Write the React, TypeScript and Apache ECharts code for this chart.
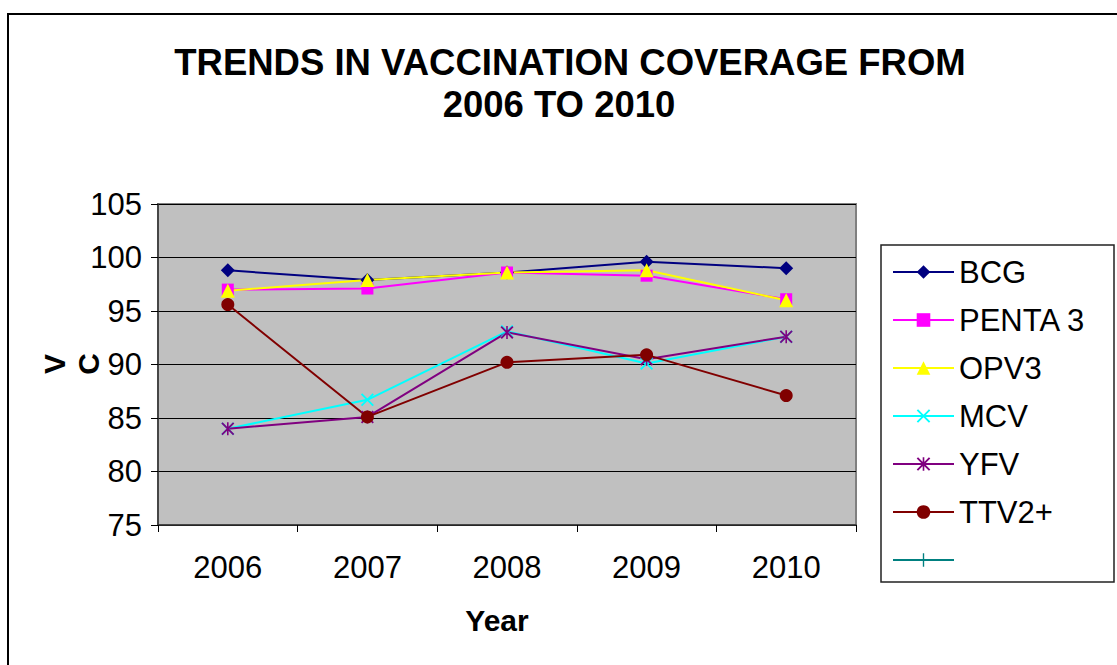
import React, { useEffect, useRef } from "react";
import * as echarts from "echarts";

const years = ["2006", "2007", "2008", "2009", "2010"];
const bcg = [98.8, 97.9, 98.6, 99.6, 99.0];
const penta3 = [97.0, 97.1, 98.6, 98.3, 96.1];
const opv3 = [96.9, 97.9, 98.6, 98.8, 96.0];
const mcv = [84.0, 86.7, 93.1, 90.1, 92.6];
const yfv = [84.0, 85.1, 93.0, 90.5, 92.6];
const ttv2 = [95.6, 85.1, 90.2, 90.9, 87.1];
const blankSeries: (number | null)[] = [];
const yTicks = { min: 75, max: 105, interval: 5 };

const FONT = '"Liberation Sans", Arial, sans-serif';

const X_PATH = "path://M0,2L2,0L20,18L18,20Z M18,0L20,2L2,20L0,18Z";
const STAR_PATH =
  "path://M0,2L2,0L20,18L18,20Z M18,0L20,2L2,20L0,18Z M8.8,0L11.2,0L11.2,20L8.8,20Z";
const PLUS_PATH = "path://M9,0L11,0L11,20L9,20Z M0,9L20,9L20,11L0,11Z";

function mk(name: string, data: (number | null)[], color: string, symbol: string, size: number) {
  return {
    name,
    type: "line",
    data,
    symbol,
    symbolSize: size,
    lineStyle: { color, width: 2 },
    itemStyle: { color, borderWidth: 0 },
    emphasis: { disabled: true },
  };
}

export default function App() {
  const ref = useRef<HTMLDivElement>(null);
  useEffect(() => {
    if (!ref.current) return;
    const chart = echarts.init(ref.current, undefined, { renderer: "svg" });
    const series = [
      mk("BCG", bcg, "#000080", "diamond", 14),
      mk("PENTA 3", penta3, "#FF00FF", "rect", 12),
      mk("OPV3", opv3, "#FFFF00", "triangle", 14),
      mk("MCV", mcv, "#00FFFF", X_PATH, 13),
      mk("YFV", yfv, "#800080", STAR_PATH, 13),
      mk("TTV2+", ttv2, "#800000", "circle", 13),
      mk(" ", blankSeries, "#008080", PLUS_PATH, 12),
    ];
    const titleStyle = {
      fontSize: 36.5,
      fontWeight: "bold",
      fontFamily: FONT,
      fill: "#000",
      align: "center",
      verticalAlign: "middle",
    };
    const axisNameStyle = {
      fontSize: 30,
      fontWeight: "bold",
      fontFamily: FONT,
      fill: "#000",
      align: "center",
      verticalAlign: "middle",
    };
    chart.setOption({
      animation: false,
      backgroundColor: "#ffffff",
      textStyle: { fontFamily: FONT },
      grid: {
        left: 158,
        right: 261,
        top: 204,
        height: 321,
        show: true,
        backgroundColor: "#C0C0C0",
        borderColor: "#808080",
        borderWidth: 2,
      },
      xAxis: {
        type: "category",
        data: years,
        boundaryGap: true,
        axisLine: { show: true, lineStyle: { color: "#333", width: 1.5 } },
        axisTick: { show: true, length: 7, interval: 0, lineStyle: { color: "#000" } },
        axisLabel: { color: "#000", fontSize: 31, fontFamily: FONT, margin: 27 },
        splitLine: { show: false },
      },
      yAxis: {
        type: "value",
        min: yTicks.min,
        max: yTicks.max,
        interval: yTicks.interval,
        axisLine: { show: true, lineStyle: { color: "#333", width: 1.5 } },
        axisTick: { show: true, length: 7, lineStyle: { color: "#000" } },
        axisLabel: { color: "#000", fontSize: 31, fontFamily: FONT, margin: 16 },
        splitLine: { show: true, lineStyle: { color: "#000", width: 1 } },
      },
      legend: {
        orient: "vertical",
        left: 892,
        top: 255,
        padding: 0,
        itemWidth: 61,
        itemHeight: 17,
        itemGap: 14,
        selectedMode: false,
        data: series.map((s) => s.name),
        textStyle: { fontSize: 31, lineHeight: 34, color: "#000", fontFamily: FONT },
      },
      graphic: [
        {
          type: "rect",
          silent: true,
          shape: { x: 8, y: 14, width: 1120, height: 670 },
          style: { fill: "none", stroke: "#000", lineWidth: 2 },
          z: 100,
        },
        {
          type: "rect",
          silent: true,
          shape: { x: 881, y: 245, width: 233, height: 337 },
          style: { fill: "none", stroke: "#222", lineWidth: 1.5 },
        },
        {
          type: "text",
          x: 570,
          y: 62,
          style: { ...titleStyle, text: "TRENDS IN VACCINATION COVERAGE FROM" },
        },
        {
          type: "text",
          x: 559,
          y: 104,
          style: { ...titleStyle, text: "2006 TO 2010" },
        },
        {
          type: "text",
          x: 497,
          y: 620,
          style: { ...axisNameStyle, text: "Year" },
        },
        {
          type: "text",
          x: 54,
          y: 364,
          rotation: Math.PI / 2,
          style: { ...axisNameStyle, text: "V" },
        },
        {
          type: "text",
          x: 88,
          y: 364,
          rotation: Math.PI / 2,
          style: { ...axisNameStyle, text: "C" },
        },
      ],
      series,
    });
    return () => chart.dispose();
  }, []);
  return (
    <div
      ref={ref}
      style={{ position: "fixed", left: 0, top: 0, width: 1117, height: 665 }}
    />
  );
}
